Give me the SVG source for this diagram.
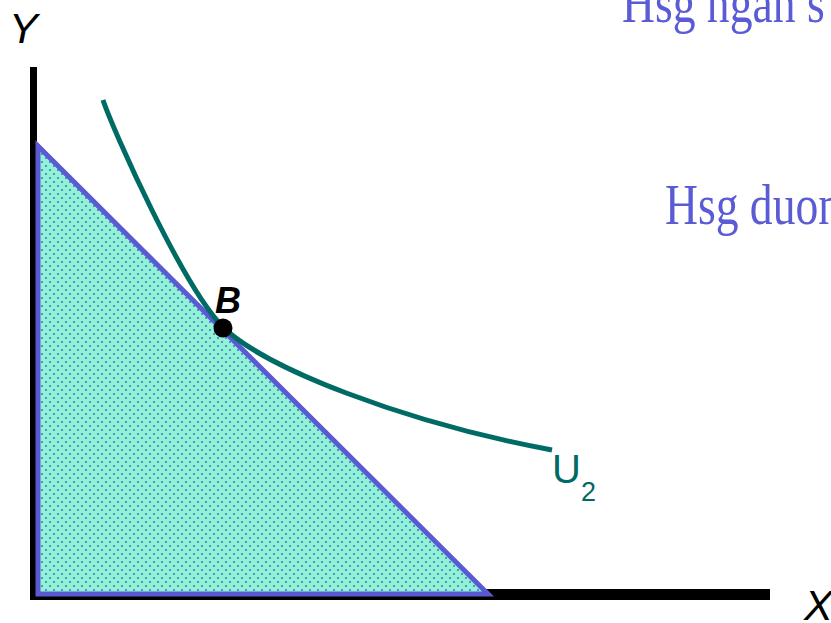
<svg xmlns="http://www.w3.org/2000/svg" width="831" height="623" viewBox="0 0 831 623">
<defs>
<pattern id="dots" width="8" height="8" patternUnits="userSpaceOnUse">
<rect width="8" height="8" fill="#8EF5D3"/>
<rect x="1" y="1" width="2" height="2" fill="#6F7FE0"/>
<rect x="5" y="5" width="2" height="2" fill="#6F7FE0"/>
</pattern>
<style>
.serif{font-family:"Liberation Serif","Times New Roman",serif;fill:#5B5BD6;font-size:57px}
.sans{font-family:"Liberation Sans",Arial,sans-serif}
</style>
</defs>
<rect width="831" height="623" fill="#fff"/>
<g id="texts-right">
<text class="serif" transform="translate(622,22) scale(0.8,1)">Hsg ngan s</text>
<text class="serif" transform="translate(665,224) scale(0.8,1)">Hsg duon</text>
</g>
<g id="axes">
<rect x="30" y="67" width="7" height="533" fill="#000"/>
<rect x="35" y="589" width="735" height="11" fill="#000"/>
<text class="sans" x="9" y="43" font-size="43" font-style="italic" fill="#000">Y</text>
<text class="sans" x="804" y="620" font-size="43" font-style="italic" fill="#000">X</text>
</g>
<g id="budget">
<polygon points="38,146 38,594 488,594" fill="url(#dots)" stroke="#5A5AD2" stroke-width="5" stroke-linejoin="miter"/>
</g>
<g id="connectors">
<path d="M103,100 C113,130 183,287 223,327 C263,367 402,422 552,450" fill="none" stroke="#006B64" stroke-width="5"/>
</g>
<g id="pointB">
<circle cx="223" cy="328" r="9.5" fill="#000"/>
<text class="sans" x="215" y="313" font-size="36" font-weight="bold" font-style="italic" fill="#000">B</text>
</g>
<g id="U2">
<text class="sans" x="552" y="483" font-size="40" fill="#006B64">U<tspan font-size="27" dy="18">2</tspan></text>
</g>
</svg>
